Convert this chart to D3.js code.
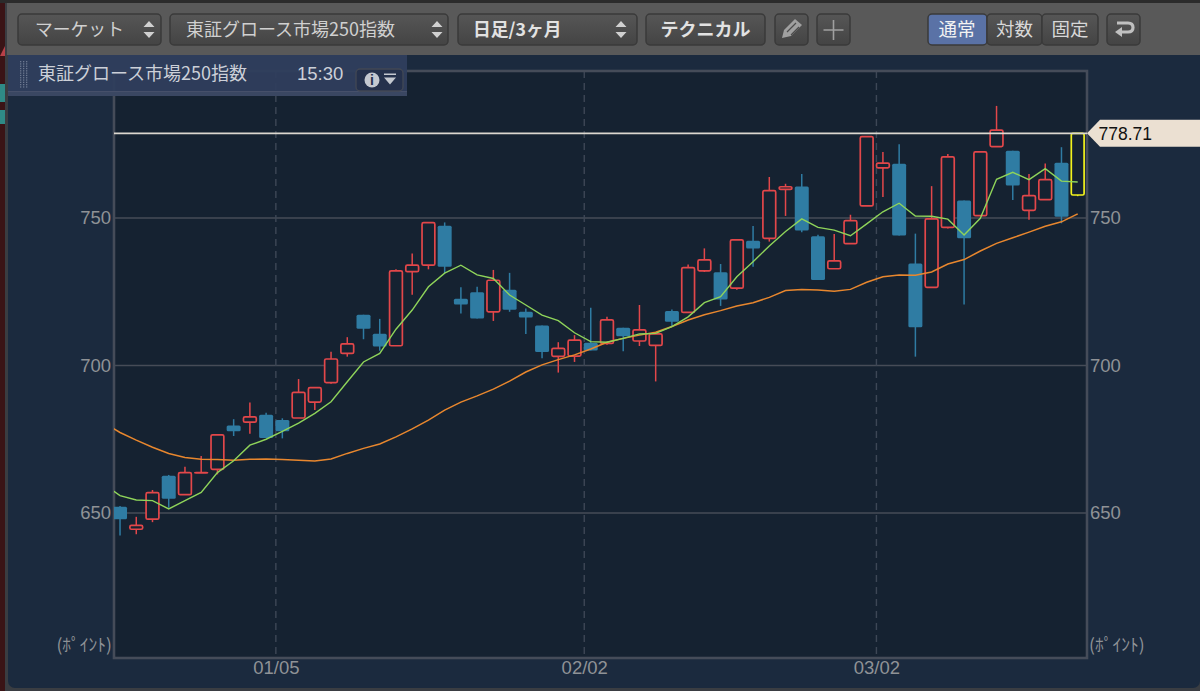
<!DOCTYPE html>
<html>
<head>
<meta charset="utf-8">
<script src="https://cdn.jsdelivr.net/npm/d3@7"></script>
<style>
  html, body { margin: 0; padding: 0; background: #2a2a2a; overflow: hidden; }
  svg { display: block; }
  text { font-family: "Liberation Sans", "Noto Sans CJK JP", sans-serif; }
</style>
</head>
<body>
<div id="chart"></div>
<script>
// trading days, the first one only feeds the moving averages at the left edge
const dates = ['12/16', '12/17', '12/18', '12/19', '12/22', '12/23', '12/24', '12/25', '12/26', '12/29', '12/30',
  '01/05', '01/06', '01/07', '01/08', '01/09', '01/13', '01/14', '01/15', '01/16',
  '01/19', '01/20', '01/21', '01/22', '01/23', '01/26', '01/27', '01/28', '01/29', '01/30',
  '02/02', '02/03', '02/04', '02/05', '02/06', '02/09', '02/10', '02/12', '02/13',
  '02/16', '02/17', '02/18', '02/19', '02/20', '02/24', '02/25', '02/26', '02/27',
  '03/02', '03/03', '03/04', '03/05', '03/06', '03/09', '03/10', '03/11', '03/12', '03/13', '03/16', '03/17', '03/18']
const dateTicks = ['01/05', '02/02', '03/02']
const priceTicks = [650, 700, 750]
const lastPrice = 778.71

const opens = [652.1, 644.5, 647.9, 662.6, 656.2, 663.6, 664.8, 679.7, 680.8, 683.3,
  681.5, 682.2, 687.6, 694.2, 704.1, 717.2, 710.8, 706.7, 731.8, 734,
  747.4, 722.6, 724.8, 718.2, 725.7, 718.2, 713.6, 703.1, 703.2, 707.7,
  707.5, 712.8, 708.3, 706.8, 718.5, 718, 732.1, 731.6, 726.2, 742.3,
  743.1, 759.7, 760.7, 743.8, 732.8, 741.3, 754.1, 767, 768.4, 734.6,
  726.5, 746.8, 755.9, 750.8, 774.2, 772.8, 752.6, 756.2, 768.7, 757.8]
const closes = [647.9, 645.8, 656.9, 654.8, 663.7, 663.7, 676.5, 677.7, 682.6, 675.4,
  677.7, 690.9, 692.5, 702.2, 707.3, 712.5, 706.4, 732.1, 734, 748.4,
  733.5, 720.7, 715.9, 728.9, 718.9, 716.3, 704.6, 705.8, 708.6, 705.1,
  715.5, 709.9, 712.1, 710.7, 714.8, 733.2, 735.8, 722.4, 742.6, 739.7,
  759.3, 760.6, 745.8, 729, 735.5, 749.1, 777.6, 768.6, 744.1, 713,
  749.7, 770.7, 743.1, 772.4, 779.8, 761, 757.6, 763, 750.4, 778.71]
const highs = [652.4, 648.7, 657.8, 662.9, 665.7, 669.3, 676.5, 681.8, 687.5, 684,
  682.1, 695.4, 692.5, 704.7, 709.6, 717.2, 715.8, 732.6, 738, 748.4,
  748.5, 726.5, 726.7, 732.4, 731.4, 719.3, 713.6, 707.9, 710.3, 719.6,
  716.5, 712.8, 720.5, 710.7, 719, 734.2, 739.7, 734.4, 742.6, 747.3,
  763.9, 761.6, 764.9, 744.3, 744.6, 751.1, 777.6, 772.4, 775, 744.7,
  760.8, 771.7, 755.9, 772.4, 788, 772.8, 764.9, 768.5, 774, 778.71]
const lows = [642.4, 642.8, 646.9, 651.8, 656.2, 663.6, 663.1, 676.1, 676.9, 675.4,
  675.3, 682.2, 684.9, 693.8, 703, 708.9, 705, 706.7, 724, 732.6,
  731.3, 717.6, 715.9, 715.1, 718.2, 710.7, 702.5, 697.6, 701.2, 705.1,
  707, 704.8, 706.6, 694.6, 713.2, 718, 731.7, 720.2, 725.7, 733.5,
  742, 750.7, 745.2, 729, 732.8, 741.3, 754.1, 757.1, 744.1, 703,
  726.5, 746.4, 720.7, 750.8, 774.2, 756.1, 749.4, 756.2, 748.2, 757.4]

const maShort = [659.7, 655.9, 654.4, 654.2, 651.4, 654.2, 657, 663.7, 667.7, 673, 675,
  677.7, 680.5, 683.8, 687.7, 694.5, 701.2, 704.1, 712.3, 718.8, 726.7,
  731.3, 734, 730.7, 729.5, 723.9, 720.5, 717.1, 715.2, 711.1, 708.1,
  707.9, 709.2, 710.7, 710.9, 713.2, 716.5, 721.3, 723.3, 730.1, 735.2,
  740.5, 745.4, 749.7, 746.8, 745.9, 744, 748, 752.1, 755, 750.7,
  750.6, 749.6, 744.2, 749.9, 763.1, 765.5, 763, 766.7, 762.5, 762.2]
const maLong = [680.6, 677.3, 674.7, 672.3, 670.2, 668.8, 668.2, 668.1, 667.9, 668.2, 668.3,
  668.1, 667.9, 667.6, 668.3, 670.2, 671.9, 673.4, 675.8, 678.5, 681.5,
  684.9, 687.6, 689.7, 692, 694.7, 697.8, 700.2, 702, 703.6, 705.6,
  707.9, 709.2, 710.3, 711.3, 713.2, 715.4, 717.2, 718.6, 720.2, 721.3,
  723.1, 725.4, 725.8, 725.6, 725.2, 725.8, 728.2, 730.1, 730.7, 730.6,
  731.7, 734.4, 735.9, 738.8, 741.4, 743.3, 745.2, 747.2, 748.7, 751.4]

const candles = opens.map((open, i) => ({
  date: dates[i + 1], open, close: closes[i], high: highs[i], low: lows[i]
}))

const width = 1200
const height = 691
const plot = { left: 114, right: 1087, top: 71, bottom: 658 }
const upColour = '#e2474a'
const downColour = '#2f7ca3'
const lastColour = '#f2f21c'
const tickColour = '#8f9296'
const jpFont = '"Noto Sans CJK JP", sans-serif'

const x = d3.scalePoint().domain(dates).range([103.8, 1077.7])
const y = d3.scaleLinear().domain([650, 750]).range([513, 218])
// date lines sit just left of the candle they belong to
const tickOffset = -6.5

const svg = d3.select('#chart').append('svg')
  .attr('width', width)
  .attr('height', height)
  .attr('viewBox', [0, 0, width, height])

const defs = svg.append('defs')
const clip = defs.append('clipPath').attr('id', 'plot-clip')
clip.append('rect')
  .attr('x', plot.left).attr('y', plot.top)
  .attr('width', plot.right - plot.left).attr('height', plot.bottom - plot.top)

const buttonFill = defs.append('linearGradient').attr('id', 'button-fill')
  .attr('x1', 0).attr('y1', 0).attr('x2', 0).attr('y2', 1)
buttonFill.append('stop').attr('offset', 0).attr('stop-color', '#565656')
buttonFill.append('stop').attr('offset', 1).attr('stop-color', '#444444')

//
// Window background, with the neighbouring window showing at the left edge
//
svg.append('rect').attr('width', width).attr('height', height).attr('fill', '#3a1416')
svg.append('path').attr('d', 'M0,56 L5,46 V56 Z').attr('fill', '#b84048')
svg.append('rect').attr('x', 0).attr('y', 84).attr('width', 5).attr('height', 18).attr('fill', '#2f8a86')
svg.append('rect').attr('x', 0).attr('y', 110).attr('width', 5).attr('height', 14).attr('fill', '#2f8a86')
svg.append('rect').attr('x', 5).attr('width', width - 5).attr('height', height).attr('fill', '#3a3d42')
svg.append('rect').attr('width', width).attr('height', 3).attr('fill', '#2b2b2b')
svg.append('rect').attr('x', 8).attr('y', 3).attr('width', width - 8).attr('height', 685).attr('rx', 7).attr('fill', '#1b2a3e')
svg.append('rect').attr('x', 7).attr('y', 3).attr('width', width - 7).attr('height', 52).attr('fill', '#595959')
svg.append('rect').attr('x', plot.left).attr('y', plot.top)
  .attr('width', plot.right - plot.left).attr('height', plot.bottom - plot.top)
  .attr('fill', '#152231')

//
// Grid and axes
//
const gridColour = '#464c57'
svg.append('g')
  .selectAll('line')
  .data(priceTicks)
  .join('line')
  .attr('x1', plot.left).attr('x2', plot.right)
  .attr('y1', d => y(d)).attr('y2', d => y(d))
  .attr('stroke', gridColour)
  .attr('stroke-width', 1.6)

svg.append('g')
  .selectAll('line')
  .data(dateTicks)
  .join('line')
  .attr('x1', d => x(d) + tickOffset).attr('x2', d => x(d) + tickOffset)
  .attr('y1', plot.top).attr('y2', plot.bottom)
  .attr('stroke', '#3d4756')
  .attr('stroke-width', 1.4)
  .attr('stroke-dasharray', '7 5')

svg.append('rect')
  .attr('x', plot.left).attr('y', plot.top)
  .attr('width', plot.right - plot.left).attr('height', plot.bottom - plot.top)
  .attr('fill', 'none')
  .attr('stroke', '#454c59')
  .attr('stroke-width', 2.6)

function styleAxis (g) {
  g.select('.domain').remove()
  g.selectAll('.tick line').remove()
  g.selectAll('.tick text')
    .attr('fill', tickColour)
    .attr('font-size', 18.5)
    .style('font-family', '"Liberation Sans", sans-serif')
}
svg.append('g')
  .attr('transform', `translate(${plot.left - 3},0)`)
  .call(d3.axisLeft(y).tickValues(priceTicks).tickSize(0).tickPadding(0))
  .call(styleAxis)
svg.append('g')
  .attr('transform', `translate(${plot.right + 3},0)`)
  .call(d3.axisRight(y).tickValues(priceTicks).tickSize(0).tickPadding(0))
  .call(styleAxis)
svg.append('g')
  .attr('transform', `translate(${tickOffset},${plot.bottom + 3})`)
  .call(d3.axisBottom(x).tickValues(dateTicks).tickSize(0).tickPadding(0))
  .call(styleAxis)

// unit label, half-width kana in the original
const unitLabel = '(ﾎﾟｲﾝﾄ)'
svg.append('g')
  .selectAll('text')
  .data([{ x: plot.left - 2, anchor: 'end' }, { x: plot.right + 2, anchor: 'start' }])
  .join('text')
  .attr('x', d => d.x)
  .attr('y', 651)
  .attr('text-anchor', d => d.anchor)
  .attr('fill', tickColour)
  .attr('font-size', 17.5)
  .style('font-family', jpFont)
  .text(unitLabel)

//
// Candles and moving averages
//
const marks = svg.append('g').attr('clip-path', 'url(#plot-clip)')
const isLast = (d, i) => i === candles.length - 1
const candleColour = (d, i) => isLast(d, i) ? lastColour : (d.close >= d.open ? upColour : downColour)

marks.append('g')
  .selectAll('line')
  .data(candles)
  .join('line')
  .attr('x1', d => x(d.date)).attr('x2', d => x(d.date))
  .attr('y1', d => y(d.high)).attr('y2', d => y(d.low))
  .attr('stroke', candleColour)
  .attr('stroke-width', 1.5)

marks.append('g')
  .selectAll('rect')
  .data(candles)
  .join('rect')
  .attr('x', d => x(d.date) - (d.close >= d.open ? 6.4 : 7))
  .attr('width', d => d.close >= d.open ? 12.8 : 14)
  .attr('y', d => y(Math.max(d.open, d.close)))
  .attr('height', d => Math.abs(y(d.open) - y(d.close)))
  .attr('rx', 1.5)
  .attr('fill', d => d.close >= d.open ? '#152231' : downColour)
  .attr('stroke', candleColour)
  .attr('stroke-width', d => d.close >= d.open ? 1.7 : 0)

const maLine = d3.line()
  .x((d, i) => x(dates[i]))
  .y(d => y(d))

marks.append('path').datum(maLong)
  .attr('d', maLine)
  .attr('fill', 'none')
  .attr('stroke', '#e8872e')
  .attr('stroke-width', 1.5)
marks.append('path').datum(maShort)
  .attr('d', maLine)
  .attr('fill', 'none')
  .attr('stroke', '#8fd45a')
  .attr('stroke-width', 1.4)

//
// Last price line and tag
//
svg.append('line')
  .attr('x1', plot.left).attr('x2', plot.right)
  .attr('y1', y(lastPrice)).attr('y2', y(lastPrice))
  .attr('stroke', '#dcd8d0')
  .attr('stroke-width', 1.7)
svg.append('path')
  .attr('d', `M${plot.right},${y(lastPrice)} l13,-13.5 H${width} v27 H${plot.right + 13} Z`)
  .attr('fill', '#ebe0d2')
svg.append('text')
  .attr('x', 1098.5)
  .attr('y', y(lastPrice) + 6.5)
  .attr('fill', '#111')
  .attr('font-size', 17.5)
  .text(lastPrice.toFixed(2))

//
// Toolbar
//
function button (g, bx, bw, opts = {}) {
  g.append('rect')
    .attr('x', bx).attr('y', 14)
    .attr('width', bw).attr('height', 31)
    .attr('rx', 4)
    .attr('fill', opts.fill || 'url(#button-fill)')
    .attr('stroke', '#3a3a3a')
    .attr('stroke-width', 1.5)
}
function label (g, txt, lx, ly, size, colour, anchor = 'start', weight = 'normal') {
  g.append('text')
    .attr('x', lx).attr('y', ly)
    .attr('fill', colour)
    .attr('font-size', size)
    .attr('font-weight', weight)
    .attr('text-anchor', anchor)
    .style('font-family', jpFont)
    .text(txt)
}
function updown (g, cx) {
  g.append('path')
    .attr('d', `M${cx - 5.5},27 L${cx},21 L${cx + 5.5},27 Z M${cx - 5.5},32 L${cx},38 L${cx + 5.5},32 Z`)
    .attr('fill', '#d0d0d0')
}

const bar = svg.append('g')
button(bar, 18, 143)
label(bar, 'マーケット', 35, 35.5, 17.8, '#d0d0d0')
updown(bar, 149)
button(bar, 170, 278)
label(bar, '東証グロース市場250指数', 186, 35.5, 18, '#d0d0d0')
updown(bar, 437)
button(bar, 458, 179)
label(bar, '日足/3ヶ月', 473, 36, 17.8, '#e2e2e2', 'start', 'bold')
updown(bar, 621)
button(bar, 646, 119)
label(bar, 'テクニカル', 705.5, 36, 18, '#e2e2e2', 'middle', 'bold')
button(bar, 775, 33)
bar.append('path')
  .attr('d', 'M782,38 l2,-8 l11,-11 l7,6 l-11,11 Z')
  .attr('fill', '#a0a0a0')
bar.append('path')
  .attr('d', 'M787,32 l9,-9 M791,35 l8,-8')
  .attr('stroke', '#4c4c4c')
  .attr('stroke-width', 1.2)
button(bar, 817, 33)
bar.append('path')
  .attr('d', 'M833.5,20 V40 M823.5,30 H843.5')
  .attr('stroke', '#a0a0a0')
  .attr('stroke-width', 1.6)
button(bar, 928, 59, { fill: '#5a72a6' })
button(bar, 987, 55)
button(bar, 1042, 56)
label(bar, '通常', 957, 36, 18.5, '#f2f2f2', 'middle')
label(bar, '対数', 1014.5, 36, 18.5, '#d8d8d8', 'middle')
label(bar, '固定', 1070, 36, 18.5, '#d8d8d8', 'middle')
button(bar, 1107, 33)
bar.append('path')
  .attr('d', 'M1117,23 H1128 Q1133,23 1133,27.5 Q1133,32 1128,32 H1120')
  .attr('fill', 'none')
  .attr('stroke', '#c0c0c0')
  .attr('stroke-width', 3.2)
bar.append('path')
  .attr('d', 'M1115,32 L1122,27 V37 Z')
  .attr('fill', '#c0c0c0')

//
// Title panel over the plot corner
//
const panel = svg.append('g')
panel.append('rect')
  .attr('x', 8).attr('y', 55).attr('width', 399).attr('height', 41)
  .attr('fill', '#2f3e5d')
  .attr('fill-opacity', 0.95)
panel.append('rect')
  .attr('x', 8).attr('y', 92).attr('width', 399).attr('height', 4)
  .attr('fill', '#3a4762')
panel.append('line')
  .attr('x1', 8).attr('x2', 407).attr('y1', 91.5).attr('y2', 91.5)
  .attr('stroke', '#46506a').attr('stroke-width', 1)
// drag handle dots
const gripDots = d3.cross(d3.range(3), d3.range(12))
panel.append('g')
  .selectAll('rect')
  .data(gripDots)
  .join('rect')
  .attr('x', d => 20 + d[0] * 3)
  .attr('y', d => 61 + d[1] * 2.3)
  .attr('width', 1.3)
  .attr('height', 1.3)
  .attr('fill', '#6c7890')
label(panel, '東証グロース市場250指数', 38, 79.5, 18, '#ccd0d8')
panel.append('text')
  .attr('x', 297).attr('y', 80)
  .attr('fill', '#ccd0d8')
  .attr('font-size', 18.5)
  .text('15:30')
panel.append('rect')
  .attr('x', 356).attr('y', 69).attr('width', 47).attr('height', 22).attr('rx', 4)
  .attr('fill', '#25314c')
  .attr('stroke', '#414754')
  .attr('stroke-width', 1.4)
panel.append('circle').attr('cx', 372).attr('cy', 80).attr('r', 7.5).attr('fill', '#c4c8d0')
panel.append('text')
  .attr('x', 372).attr('y', 85)
  .attr('text-anchor', 'middle')
  .attr('fill', '#25314c')
  .attr('font-size', 14)
  .attr('font-weight', 'bold')
  .text('i')
panel.append('path')
  .attr('d', 'M384,73.5 H396 V75 H384 Z M384,77.5 H396 L390,84.5 Z')
  .attr('fill', '#c4c8d0')
</script>
</body>
</html>
